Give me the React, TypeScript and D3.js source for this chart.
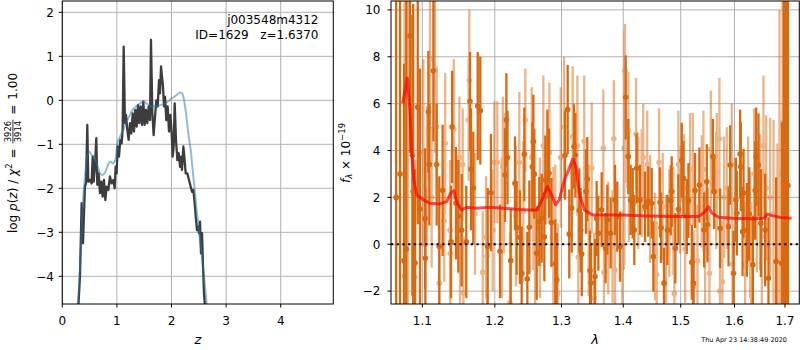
import * as d3 from 'd3'
import { useEffect, useRef } from 'react'

// log p(z) curve, [z, log p]
const pzCurve = [
  [0.28, -5.0], [0.324, -4.0], [0.354, -2.34], [0.379, -3.25], [0.397, -2.57], [0.415, -1.96], [0.434, -1.89],
  [0.458, -0.56], [0.476, -1.85], [0.507, -1.81], [0.537, -1.89], [0.556, -1.28], [0.574, -1.85], [0.598, -1.51],
  [0.623, -0.86], [0.641, -1.92], [0.666, -1.66], [0.69, -2.11], [0.715, -1.85], [0.739, -2.19], [0.763, -1.81],
  [0.788, -2.27], [0.812, -1.96], [0.843, -2.04], [0.873, -1.73], [0.904, -1.89], [0.934, -1.81], [0.959, -2.0],
  [0.977, -1.51], [0.995, -1.66], [1.014, -1.05], [1.038, -1.28], [1.063, -0.9], [1.087, -0.98], [1.105, -0.67],
  [1.124, 1.22], [1.148, -0.52], [1.166, -0.33], [1.191, -0.67], [1.215, -0.9], [1.24, -0.52], [1.264, -0.75],
  [1.289, -0.3], [1.313, -0.71], [1.337, -0.22], [1.362, -0.6], [1.386, -0.11], [1.41, -0.52], [1.435, -0.14],
  [1.46, -0.56], [1.484, -0.03], [1.508, -0.56], [1.533, -0.22], [1.557, -0.52], [1.582, -0.14], [1.606, -0.45],
  [1.624, 1.37], [1.649, -0.3], [1.673, -0.79], [1.698, -0.37], [1.722, 0.0], [1.747, -0.14], [1.771, 0.46],
  [1.789, 0.16], [1.808, 0.77], [1.826, 0.54], [1.844, 0.31], [1.863, -0.14], [1.881, 0.08], [1.905, -0.45],
  [1.93, -0.14], [1.954, -0.71], [1.979, -0.33], [2.003, -0.75], [2.021, -1.28], [2.04, -1.05], [2.058, -0.07],
  [2.082, -0.9], [2.107, -1.36], [2.131, -1.2], [2.156, -1.51], [2.174, -1.28], [2.192, -1.58], [2.217, -1.05],
  [2.235, -1.28], [2.26, -1.66], [2.29, -1.66], [2.32, -1.81], [2.35, -1.96], [2.376, -2.08], [2.4, -2.04],
  [2.424, -2.34], [2.449, -2.72], [2.467, -2.95], [2.485, -2.87], [2.504, -3.02], [2.522, -2.76], [2.54, -3.48],
  [2.559, -3.02], [2.577, -3.78], [2.595, -4.39], [2.614, -4.7], [2.64, -5.0],
]

// smooth fit curve, [z, log p]
const pzSmooth = [
  [0.28, -4.9], [0.324, -3.78], [0.373, -2.42], [0.415, -1.73], [0.458, -1.28], [0.495, -1.17], [0.537, -1.24],
  [0.58, -1.28], [0.629, -1.43], [0.678, -1.62], [0.727, -1.7], [0.776, -1.66], [0.824, -1.51], [0.873, -1.39],
  [0.922, -1.43], [0.971, -1.36], [1.008, -0.98], [1.057, -0.83], [1.118, -0.67], [1.179, -0.48], [1.24, -0.33],
  [1.3, -0.2], [1.362, -0.13], [1.423, -0.07], [1.484, -0.03], [1.545, -0.07], [1.606, -0.13], [1.667, -0.14],
  [1.728, -0.13], [1.789, -0.11], [1.85, -0.09], [1.911, -0.05], [1.972, 0.01], [2.034, 0.07], [2.095, 0.12],
  [2.156, 0.18], [2.192, 0.16], [2.229, 0.01], [2.266, -0.3], [2.308, -0.75], [2.351, -1.13], [2.388, -1.58],
  [2.43, -2.11], [2.473, -2.64], [2.522, -3.17], [2.571, -3.7], [2.614, -4.23], [2.644, -4.63], [2.68, -5.0],
]

const zTicks = [0, 1, 2, 3, 4]
const pzTicks = [-4, -3, -2, -1, 0, 1, 2]

// spectrum, [lambda, flux, err]
const specDark = [
  [1.066, 2.0, 12], [1.071, 3.0, 14], [1.0761, -0.7, 8.4], [1.079, -0.2, 11], [1.0839, 8.9, 5.0],
  [1.0869, 3.8, 6.0], [1.088, 2.25, 8.0], [1.0904, -0.8, 4.0], [1.094, 5.85, 5.0], [1.097, 1.5, 6.0],
  [1.1036, 1.1, 3.0], [1.104, -0.6, 3.0], [1.108, 5.65, 2.6], [1.1093, 3.4, 2.6], [1.1147, 7.4, 3.0],
  [1.1191, 3.4, 2.6], [1.1226, -0.1, 3.0], [1.1271, 2.3, 2.8], [1.1386, 0.1, 2.4], [1.14, 5.0, 2.4],
  [1.1454, 1.75, 2.4], [1.1485, 1.2, 2.4], [1.1532, 0.6, 2.4], [1.1596, 0.1, 2.4], [1.1648, 6.1, 2.1],
  [1.1662, 3.2, 2.6], [1.1694, 2.4, 2.4], [1.1756, 5.9, 2.3], [1.1793, 5.7, 2.3], [1.1898, -0.1, 2.5],
  [1.1945, 2.2, 2.5], [1.2075, -0.3, 2.0], [1.2148, 2.95, 2.0], [1.2168, 5.3, 2.0], [1.2184, 3.7, 2.0],
  [1.2231, -0.7, 2.2], [1.2294, 2.6, 2.0], [1.2319, 0.7, 2.0], [1.2368, 0.3, 2.0], [1.2393, -1.24, 2.0],
  [1.2433, 3.84, 2.0], [1.2478, -1.48, 2.0], [1.2508, 0.72, 2.0], [1.2553, 3.31, 1.9], [1.2568, 4.38, 2.0],
  [1.2583, 3.0, 1.9], [1.2619, -0.38, 2.0], [1.2658, 0.97, 1.9], [1.2695, 1.11, 1.9], [1.2735, 0.32, 1.9],
  [1.275, 2.74, 1.9], [1.2781, 3.85, 1.9], [1.2807, 3.03, 1.9], [1.2843, 0.93, 1.9], [1.2904, -0.83, 1.9],
  [1.2926, -1.52, 2.0], [1.3055, 3.8, 1.9], [1.3097, 5.75, 1.9], [1.3122, 0.44, 1.9], [1.316, 1.54, 1.9],
  [1.3197, 4.17, 1.8], [1.3218, 3.81, 1.8], [1.3281, 1.44, 1.8], [1.3303, 0.6, 1.8], [1.332, -0.42, 1.8],
  [1.3388, 2.25, 1.8], [1.3409, 2.78, 1.8], [1.3453, -1.12, 1.7], [1.3469, -1.64, 1.7],
  [1.3534, -1.38, 1.6], [1.3561, 1.1, 1.6], [1.3588, 0.47, 1.6], [1.3642, 1.47, 1.6], [1.3707, -0.17, 1.5],
  [1.3735, 1.04, 1.5], [1.379, 0.47, 1.5], [1.3863, 1.89, 1.5], [1.39, 1.18, 1.5], [1.3946, -0.1, 1.5],
  [1.4041, 6.27, 1.8], [1.4086, 3.74, 1.6], [1.4126, 1.89, 1.5], [1.416, 1.75, 1.5], [1.4187, 0.61, 1.5],
  [1.4228, 3.24, 1.5], [1.4285, 1.89, 1.5], [1.4371, 1.6, 1.5], [1.4427, 1.82, 1.5], [1.4487, 1.75, 1.5],
  [1.4515, -0.52, 1.5], [1.4633, 1.79, 1.5], [1.465, 0.7, 1.5], [1.4703, -1.66, 1.5], [1.4762, 0.61, 1.5],
  [1.4822, 1.87, 1.5], [1.4839, 2.25, 1.5], [1.4904, -0.17, 1.5], [1.4958, 1.49, 1.5], [1.5019, 3.58, 1.6],
  [1.5049, 2.81, 1.6], [1.511, 1.18, 1.6], [1.514, 1.87, 1.6], [1.5201, -0.77, 1.6], [1.5231, -1.66, 1.6],
  [1.5261, 2.29, 1.6], [1.534, 2.53, 1.6], [1.5427, 0.61, 1.6], [1.5477, 2.67, 1.6], [1.5489, 0.83, 1.6],
  [1.559, 3.74, 1.6], [1.5614, 2.25, 1.6], [1.5727, 0.68, 1.7], [1.5886, 0.75, 1.7], [1.5917, 3.38, 1.7],
  [1.5982, -1.24, 1.8], [1.6027, 1.89, 1.8], [1.6046, 1.32, 1.8], [1.6109, 3.85, 1.9], [1.6122, 3.31, 1.9],
  [1.6156, 0.54, 1.9], [1.6175, 2.18, 1.9], [1.624, 0.61, 2.0], [1.6285, 1.29, 2.0], [1.6357, -0.88, 2.1],
  [1.6402, 2.29, 2.1], [1.6422, 3.74, 2.1], [1.6468, 3.38, 2.2], [1.6515, 0.9, 2.3], [1.66, 0.61, 2.4],
  [1.6667, -1.45, 2.6], [1.6821, -0.74, 3.6], [1.6936, -0.81, 6.0], [1.6975, 2.0, 14], [1.7004, 5.19, 9.0],
  [1.703, 1.0, 15], [1.706, 2.5, 16],
]

const specLight = [
  [1.0767, -1.35, 12], [1.081, 4.0, 10], [1.0904, -1.4, 5.0], [1.1013, 3.9, 4.0], [1.1062, 2.9, 3.0],
  [1.1102, 7.9, 3.0], [1.1124, 2.0, 3.0], [1.1169, 7.4, 3.5], [1.1191, 5.0, 2.6], [1.1226, -1.66, 2.6],
  [1.1293, 1.0, 2.6], [1.1306, 4.3, 3.0], [1.1372, 0.6, 3.0], [1.1374, -0.4, 2.6], [1.1423, 4.9, 3.0],
  [1.15, 3.7, 2.6], [1.151, -1.17, 3.0], [1.1546, 3.4, 2.4], [1.1556, -2.07, 2.4], [1.1628, 5.3, 2.6],
  [1.1638, 7.0, 3.0], [1.1718, 1.3, 2.6], [1.1764, 5.9, 2.2], [1.1827, -1.2, 2.6], [1.1874, 0.3, 2.6],
  [1.1888, -0.5, 2.6], [1.197, 0.6, 2.6], [1.1993, 3.5, 2.6], [1.2036, 3.5, 2.6], [1.21, 0.7, 3.0],
  [1.2115, 3.3, 3.0], [1.2133, 2.6, 3.0], [1.2221, -2.5, 3.0], [1.2309, 1.2, 3.0], [1.2358, 3.5, 3.0],
  [1.2418, 1.4, 3.0], [1.2448, 5.3, 2.2], [1.2544, 3.7, 3.0], [1.2568, 1.9, 3.0], [1.2593, -0.1, 3.0],
  [1.2669, 0.7, 3.0], [1.272, 4.2, 3.0], [1.2812, 3.9, 3.0], [1.2873, 0.3, 3.0], [1.2904, 0.4, 3.0],
  [1.2941, -2.1, 3.0], [1.2988, 3.7, 3.0], [1.304, 5.0, 3.0], [1.3176, 4.6, 3.0], [1.325, 4.2, 3.0],
  [1.3265, -0.55, 3.0], [1.336, 4.4, 2.8], [1.3431, 0.6, 2.8], [1.348, 3.25, 2.8], [1.3518, -2.3, 2.8],
  [1.367, 4.1, 2.5], [1.368, -1.2, 2.5], [1.375, 0.27, 2.4], [1.3822, -0.1, 2.4], [1.3844, 4.5, 2.5],
  [1.3863, -1.1, 2.4], [1.3985, -1.0, 2.4], [1.402, 4.1, 5.0], [1.403, 7.4, 2.0], [1.4045, 5.1, 2.5],
  [1.4086, 4.85, 2.5], [1.4096, 2.5, 2.4], [1.4217, 4.7, 2.4], [1.4256, 2.2, 2.4], [1.4314, 2.6, 2.3],
  [1.434, 3.7, 2.3], [1.441, 3.4, 2.3], [1.4458, 1.5, 2.3], [1.4545, -0.1, 2.3], [1.4574, -1.3, 2.3],
  [1.4615, 3.5, 2.3], [1.468, 1.6, 2.3], [1.4739, -0.2, 2.3], [1.4797, 0.9, 2.3], [1.4868, 1.0, 2.3],
  [1.4886, -2.1, 2.3], [1.4958, 3.4, 2.3], [1.4989, 1.9, 2.3], [1.5061, 2.4, 2.3], [1.5079, -0.2, 2.3],
  [1.517, 3.2, 2.4], [1.522, 3.2, 2.4], [1.5235, -1.8, 2.4], [1.5304, -0.7, 2.4], [1.5384, 2.25, 2.4],
  [1.5415, 3.2, 2.5], [1.5446, -0.24, 2.5], [1.5527, -1.24, 2.5], [1.5552, 4.05, 2.5], [1.5652, 2.3, 2.5],
  [1.5664, 3.1, 2.5], [1.5714, 4.5, 2.6], [1.5724, -2.0, 2.6], [1.5771, -1.6, 2.6], [1.5802, 2.0, 2.6],
  [1.5853, 2.4, 2.6], [1.5949, 3.4, 2.6], [1.5962, -0.85, 2.6], [1.6206, -0.9, 2.7], [1.6265, 1.9, 2.7],
  [1.6304, 0.4, 2.7], [1.6324, -0.9, 2.7], [1.6383, 3.0, 2.8], [1.6435, 1.6, 2.8], [1.6501, 1.8, 2.9],
  [1.6534, 0.33, 2.9], [1.6567, 4.2, 3.0], [1.662, 2.4, 3.1], [1.67, 2.0, 3.4], [1.6767, 1.3, 4.0],
  [1.6847, -0.7, 5.0], [1.6888, 3.0, 7.0], [1.695, 5.2, 8.0], [1.7004, -2.0, 9.0], [1.7051, 2.5, 10],
]

// best-fit model, [lambda, flux]
const specModel = [
  [1.0744, 6.02], [1.0804, 7.08], [1.0838, 5.73], [1.0859, 4.02], [1.0888, 2.74], [1.093, 2.1], [1.1013, 1.89],
  [1.1102, 1.75], [1.1236, 1.72], [1.1326, 1.82], [1.138, 2.18], [1.1425, 2.29], [1.147, 1.75], [1.153, 1.46],
  [1.16, 1.58], [1.174, 1.54], [1.193, 1.58], [1.2115, 1.54], [1.231, 1.49], [1.25, 1.46], [1.2625, 1.46],
  [1.27, 1.89], [1.278, 2.46], [1.2835, 2.18], [1.291, 1.68], [1.2966, 1.89], [1.3044, 2.74], [1.3122, 3.24],
  [1.3175, 3.63], [1.3228, 3.31], [1.3281, 2.18], [1.3361, 1.46], [1.3496, 1.25], [1.3714, 1.25], [1.3994, 1.25],
  [1.4401, 1.21], [1.483, 1.18], [1.532, 1.18], [1.5414, 1.32], [1.551, 1.6], [1.5573, 1.32], [1.5702, 1.15],
  [1.5963, 1.11], [1.637, 1.09], [1.6575, 1.11], [1.6644, 1.29], [1.6748, 1.21], [1.6925, 1.14], [1.7138, 1.11],
]

const lamTicks = [1.1, 1.2, 1.3, 1.4, 1.5, 1.6, 1.7]
const fluxTicks = [-2, 0, 2, 4, 6, 8, 10]

const font = "'DejaVu Sans', sans-serif"
const minus = (s: string) => s.replace('-', '\u2212')

export default function App() {
  const svgRef = useRef<SVGSVGElement>(null)

  useEffect(() => {
    makeChart(svgRef.current)
  }, [])

  function drawGrid(g, x, y, box, xTicks, yTicks) {
    g.append('g').selectAll('line').data(xTicks).join('line')
      .attr('x1', d => x(d)).attr('x2', d => x(d)).attr('y1', box.y0).attr('y2', box.y1)
      .attr('stroke', '#b0b0b0').attr('stroke-width', 1)
    g.append('g').selectAll('line').data(yTicks).join('line')
      .attr('y1', d => y(d)).attr('y2', d => y(d)).attr('x1', box.x0).attr('x2', box.x1)
      .attr('stroke', '#b0b0b0').attr('stroke-width', 1)
  }

  function drawAxes(g, x, y, box, xTicks, yTicks, xFmt, yFmt, yLabelX) {
    g.append('rect').attr('x', box.x0).attr('y', box.y0)
      .attr('width', box.x1 - box.x0).attr('height', box.y1 - box.y0)
      .attr('fill', 'none').attr('stroke', 'black').attr('stroke-width', 1)
    g.append('g').selectAll('line').data(xTicks).join('line')
      .attr('x1', d => x(d)).attr('x2', d => x(d)).attr('y1', box.y1).attr('y2', box.y1 + 3.5)
      .attr('stroke', 'black')
    g.append('g').selectAll('text').data(xTicks).join('text')
      .attr('x', d => x(d)).attr('y', box.y1 + 20.5)
      .attr('text-anchor', 'middle').attr('font-family', font).attr('font-size', 12)
      .text(d => xFmt(d))
    g.append('g').selectAll('line').data(yTicks).join('line')
      .attr('y1', d => y(d)).attr('y2', d => y(d)).attr('x1', box.x0 - 3.5).attr('x2', box.x0)
      .attr('stroke', 'black')
    g.append('g').selectAll('text').data(yTicks).join('text')
      .attr('x', yLabelX).attr('y', d => y(d)).attr('dy', '0.36em')
      .attr('text-anchor', 'end').attr('font-family', font).attr('font-size', 12)
      .text(d => yFmt(d))
  }

  function makeChart(el: SVGSVGElement | null) {
    if (!el) return
    const svg = d3.select(el)
    svg.selectAll('*').remove()
    svg.append('rect').attr('width', 800).attr('height', 350).attr('fill', 'white')

    // ---------- left: p(z)
    const LB = { x0: 62.3, x1: 333.3, y0: 1, y1: 304 }
    const zx = d3.scaleLinear().domain([0, 4.963]).range([LB.x0, LB.x1])
    const zy = d3.scaleLinear().domain([-4.63, 2.257]).range([LB.y1, LB.y0])

    svg.append('clipPath').attr('id', 'clipL').append('rect')
      .attr('x', LB.x0).attr('y', LB.y0).attr('width', LB.x1 - LB.x0).attr('height', LB.y1 - LB.y0)

    const left = svg.append('g')
    drawGrid(left, zx, zy, LB, zTicks, pzTicks)

    const pzLine = d3.line().x(d => zx(d[0])).y(d => zy(d[1]))
    const smoothLine = d3.line().x(d => zx(d[0])).y(d => zy(d[1])).curve(d3.curveMonotoneX)

    const lc = left.append('g').attr('clip-path', 'url(#clipL)')
    lc.append('path').attr('d', pzLine(pzCurve)).attr('fill', 'none')
      .attr('stroke', '#333333').attr('stroke-opacity', 0.95).attr('stroke-width', 2.3)
      .attr('stroke-linejoin', 'round')
    lc.append('path').attr('d', smoothLine(pzSmooth)).attr('fill', 'none')
      .attr('stroke', '#1f77b4').attr('stroke-opacity', 0.5).attr('stroke-width', 2)

    drawAxes(left, zx, zy, LB, zTicks, pzTicks, d => String(d), d => minus(String(d)), 54)

    left.append('text').attr('x', 318.5).attr('y', 24).attr('text-anchor', 'end')
      .attr('font-family', font).attr('font-size', 12).text('j003548m4312')
    left.append('text').attr('x', 318.5).attr('y', 38.5).attr('text-anchor', 'end')
      .attr('font-family', font).attr('font-size', 12).style('white-space', 'pre')
      .text('ID=1629   z=1.6370')

    left.append('text').attr('x', (LB.x0 + LB.x1) / 2).attr('y', 343.5).attr('text-anchor', 'middle')
      .attr('font-family', font).attr('font-size', 13).attr('font-style', 'italic').text('z')

    // y label with stacked fraction
    const yl = svg.append('g')
    const t1 = yl.append('text').attr('x', 0).attr('y', 0).attr('font-family', font).attr('font-size', 12)
    t1.append('tspan').text('log ')
    t1.append('tspan').attr('font-style', 'italic').text('p')
    t1.append('tspan').text('(')
    t1.append('tspan').attr('font-style', 'italic').text('z')
    t1.append('tspan').style('white-space', 'pre').text(') / ')
    t1.append('tspan').attr('font-style', 'italic').text('\u03c7')
    t1.append('tspan').attr('font-size', 8.5).attr('dy', -5).text('2')
    let u = (t1.node() as SVGTextElement).getComputedTextLength() + 5
    const eq1 = yl.append('text').attr('x', u).attr('y', 0).attr('font-family', font).attr('font-size', 12).text('=')
    u += (eq1.node() as SVGTextElement).getComputedTextLength() + 5
    const num = yl.append('text').attr('y', -5.2).attr('font-family', font).attr('font-size', 8.5)
      .attr('text-anchor', 'middle').text('3926')
    const den = yl.append('text').attr('y', 4.2).attr('font-family', font).attr('font-size', 8.5)
      .attr('text-anchor', 'middle').text('3914')
    const fw = Math.max((num.node() as SVGTextElement).getComputedTextLength(),
      (den.node() as SVGTextElement).getComputedTextLength()) + 2
    num.attr('x', u + fw / 2)
    den.attr('x', u + fw / 2)
    yl.append('line').attr('x1', u).attr('x2', u + fw).attr('y1', -3.6).attr('y2', -3.6)
      .attr('stroke', 'black').attr('stroke-width', 0.8)
    u += fw + 5
    const eq2 = yl.append('text').attr('x', u).attr('y', 0).attr('font-family', font).attr('font-size', 12).text('=')
    u += (eq2.node() as SVGTextElement).getComputedTextLength() + 5
    const val = yl.append('text').attr('x', u).attr('y', 0).attr('font-family', font).attr('font-size', 12).text('1.00')
    u += (val.node() as SVGTextElement).getComputedTextLength()
    yl.attr('transform', `translate(16.5,${153 + u / 2}) rotate(-90)`)

    // ---------- right: spectrum
    const RB = { x0: 391, x1: 799.3, y0: 1, y1: 304 }
    const lx = d3.scaleLog().domain([1.0594, 1.7295]).range([RB.x0, RB.x1])
    const fy = d3.scaleLinear().domain([-2.55, 10.38]).range([RB.y1, RB.y0])

    svg.append('clipPath').attr('id', 'clipR').append('rect')
      .attr('x', RB.x0).attr('y', RB.y0).attr('width', RB.x1 - RB.x0).attr('height', RB.y1 - RB.y0)

    const right = svg.append('g')
    drawGrid(right, lx, fy, RB, lamTicks, fluxTicks)
    const rc = right.append('g').attr('clip-path', 'url(#clipR)')

    const orange = '#d9690f'
    const drawSeries = (data, opacity) => {
      const s = rc.append('g').attr('opacity', opacity)
      s.selectAll('line').data(data).join('line')
        .attr('x1', d => lx(d[0])).attr('x2', d => lx(d[0]))
        .attr('y1', d => fy(d[1] - d[2])).attr('y2', d => fy(d[1] + d[2]))
        .attr('stroke', orange).attr('stroke-width', 2.3)
      s.selectAll('circle').data(data).join('circle')
        .attr('cx', d => lx(d[0])).attr('cy', d => fy(d[1])).attr('r', 2.8)
        .attr('fill', orange)
    }
    drawSeries(specLight, 0.5)
    drawSeries(specDark, 1)

    const modelLine = d3.line().x(d => lx(d[0])).y(d => fy(d[1]))
    rc.append('path').attr('d', modelLine(specModel)).attr('fill', 'none')
      .attr('stroke', 'red').attr('stroke-opacity', 0.7).attr('stroke-width', 3)
      .attr('stroke-linejoin', 'round')

    rc.append('line').attr('x1', RB.x0).attr('x2', RB.x1).attr('y1', fy(0)).attr('y2', fy(0))
      .attr('stroke', 'black').attr('stroke-width', 2).attr('stroke-dasharray', '2.2,3.5')

    drawAxes(right, lx, fy, RB, lamTicks, fluxTicks, d => d3.format('.1f')(d), d => minus(String(d)), 380.5)

    right.append('text').attr('x', (RB.x0 + RB.x1) / 2).attr('y', 343.5).attr('text-anchor', 'middle')
      .attr('font-family', font).attr('font-size', 13).attr('font-style', 'italic').text('\u03bb')

    const fl = right.append('text').attr('transform', 'translate(349.5,153) rotate(-90)')
      .attr('text-anchor', 'middle').attr('font-family', font).attr('font-size', 12)
    fl.append('tspan').attr('font-style', 'italic').text('f')
    fl.append('tspan').attr('font-style', 'italic').attr('font-size', 8.5).attr('dy', 2.5).text('\u03bb')
    fl.append('tspan').attr('dy', -2.5).style('white-space', 'pre').text(' \u00d7 10')
    fl.append('tspan').attr('font-size', 8.5).attr('dy', -5).text('\u221219')

    svg.append('text').attr('x', 787).attr('y', 342).attr('text-anchor', 'end')
      .attr('font-family', font).attr('font-size', 6.5).text('Thu Apr 23 14:38:49 2020')
  }

  return (
    <svg ref={svgRef} width={800} height={350} style={{ position: 'absolute', left: 0, top: 0 }}></svg>
  )
}
